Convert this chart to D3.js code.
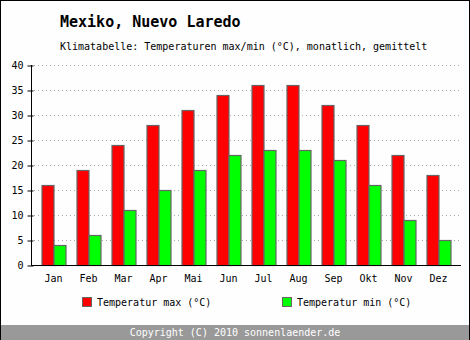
<!DOCTYPE html>
<html><head><meta charset="utf-8">
<script src="https://cdn.jsdelivr.net/npm/d3@7"></script>
<style>html,body{margin:0;padding:0;background:#fff;}svg{display:block;}</style>
</head><body>
<script>
const months = ["Jan","Feb","Mar","Apr","Mai","Jun","Jul","Aug","Sep","Okt","Nov","Dez"];
const tMax = [16,19,24,28,31,34,36,36,32,28,22,18];
const tMin = [4,6,11,15,19,22,23,23,21,16,9,5];
const yTicks = [0,5,10,15,20,25,30,35,40];
const seriesNames = ["Temperatur max (°C)","Temperatur min (°C)"];
const seriesColors = ["#ff0000","#00ff00"];
const title = "Mexiko, Nuevo Laredo";
const subtitle = "Klimatabelle: Temperaturen max/min (°C), monatlich, gemittelt";
const footer = "Copyright (C) 2010 sonnenlaender.de";

const W = 470, H = 340;
const font = "'DejaVu Sans Mono', monospace";
const svg = d3.select("body").append("svg").attr("width", W).attr("height", H);

svg.append("rect").attr("x",0.5).attr("y",0.5).attr("width",W-1).attr("height",H-1)
  .attr("fill","#fefefe").attr("stroke","#000");

const x = d3.scaleBand().domain(months).range([31, 461]).paddingInner(11/35).paddingOuter(0.3);
const xs = d3.scaleBand().domain([0,1]).range([0, x.bandwidth()]);
const y = d3.scaleLinear().domain([0, 40]).range([265, 65]);

// grid
svg.append("g").selectAll("line").data(yTicks.filter(d => d > 0)).join("line")
  .attr("x1", 34).attr("x2", 461)
  .attr("y1", d => y(d) + 0.5).attr("y2", d => y(d) + 0.5)
  .attr("stroke", "#aaaaaa").attr("stroke-dasharray", "1,3");

// bars
const series = [tMax, tMin];
series.forEach((vals, si) => {
  svg.append("g").selectAll("rect").data(vals).join("rect")
    .attr("x", (d,i) => x(months[i]) + xs(si) + 0.5)
    .attr("y", d => y(d) + 0.5)
    .attr("width", xs.bandwidth())
    .attr("height", d => y(0) - y(d))
    .attr("fill", seriesColors[si])
    .attr("stroke", "#666666").attr("stroke-width", 1.2);
});

// y axis
const yAxis = d3.axisLeft(y).tickValues(yTicks).tickSize(4).tickPadding(4);
const gy = svg.append("g").attr("transform","translate(31.5,0.5)").call(yAxis);
gy.select(".domain").attr("d", `M0,${y(40)-0.5}V${y(0)}`).attr("stroke","#000");
gy.selectAll(".tick line").attr("x2",-4).attr("x1",2).attr("stroke","#000");
gy.selectAll("text").attr("font-family", font).attr("font-size", 10).attr("fill","#000");

// x axis
const xAxis = d3.axisBottom(x).tickSize(0).tickPadding(9);
const gx = svg.append("g").attr("transform","translate(0,265.5)").call(xAxis);
gx.select(".domain").attr("d","M31,0H461").attr("stroke","#000");
gx.selectAll("text").attr("font-family", font).attr("font-size", 10).attr("fill","#000");

// titles
svg.append("text").attr("x",60).attr("y",27).text(title)
  .attr("font-family", font).attr("font-size", 15).attr("font-weight","bold");
svg.append("text").attr("x",60).attr("y",50).text(subtitle)
  .attr("font-family", font).attr("font-size", 10);

// legend
const legX = [82, 282];
seriesNames.forEach((n, i) => {
  svg.append("rect").attr("x", legX[i]+0.5).attr("y", 297.5).attr("width", 9).attr("height", 9)
    .attr("fill", seriesColors[i]).attr("stroke","#666666");
  svg.append("text").attr("x", legX[i]+15).attr("y", 306).text(n)
    .attr("font-family", font).attr("font-size", 10);
});

// footer
svg.append("rect").attr("x",0).attr("y",325).attr("width",W).attr("height",15).attr("fill","#999999");
svg.append("line").attr("x1",0.5).attr("x2",0.5).attr("y1",0).attr("y2",H).attr("stroke","#000");
svg.append("line").attr("x1",W-0.5).attr("x2",W-0.5).attr("y1",0).attr("y2",H).attr("stroke","#000");
svg.append("text").attr("x", W/2).attr("y", 336).attr("text-anchor","middle").text(footer)
  .attr("font-family", font).attr("font-size", 10).attr("fill","#fff");
</script>
</body></html>
